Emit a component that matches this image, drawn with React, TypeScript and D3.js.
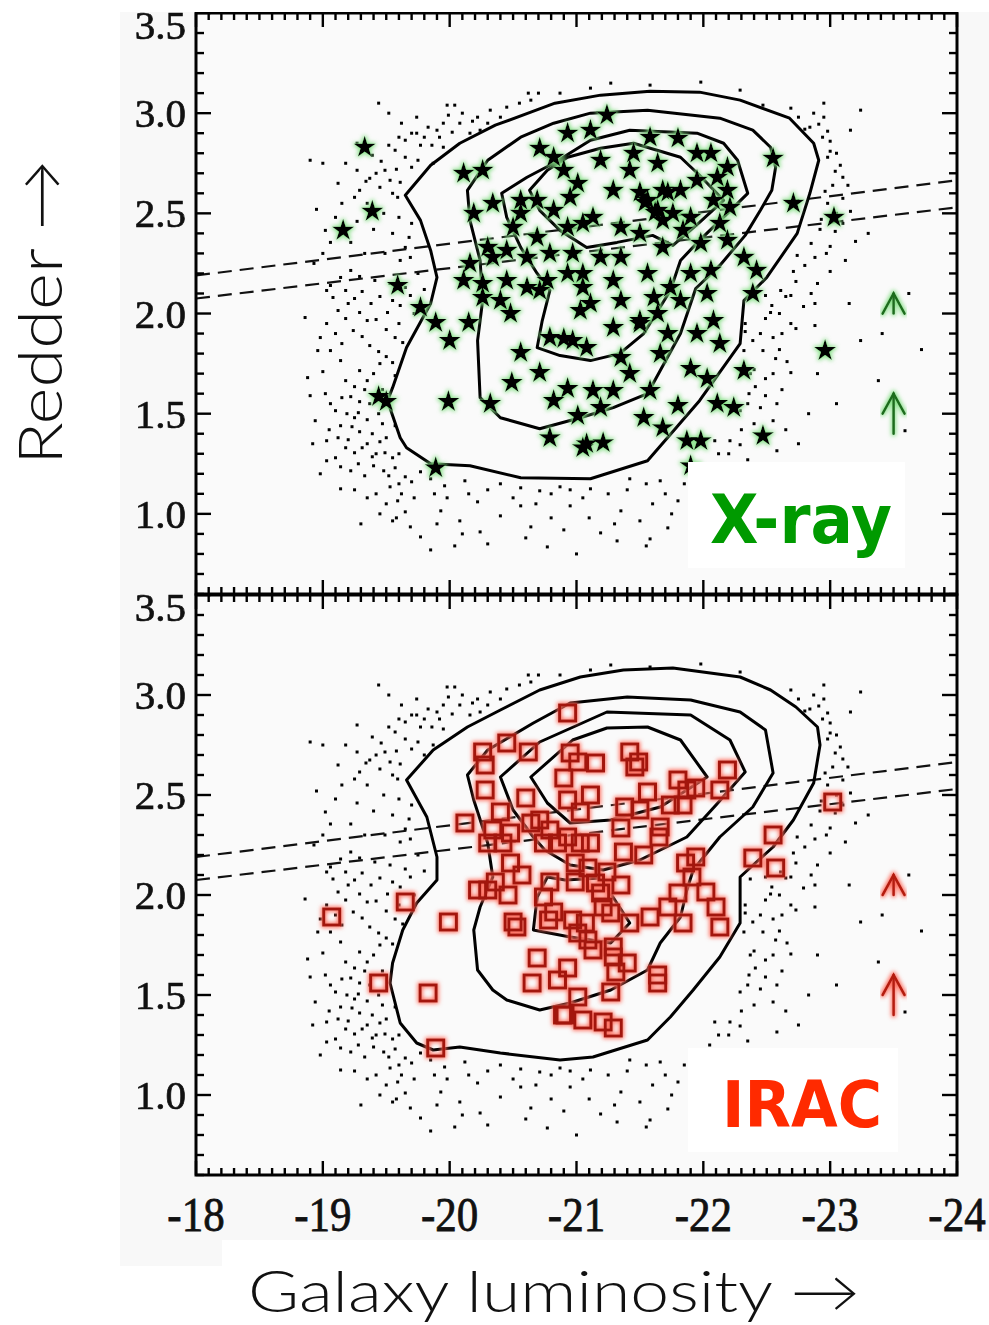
import React from "react";
import * as d3 from "d3";

type Pt = [number, number];

// ---------- axes ----------
const xTickValues = [-18, -19, -20, -21, -22, -23, -24];
const yTickValues = [1.0, 1.5, 2.0, 2.5, 3.0, 3.5];
const xDomain: Pt = [-18, -24];
const yDomain: Pt = [0.6, 3.5];

// ---------- field galaxies (small dots, shown outside the outermost contour) ----------
const fieldGalaxies: Pt[] = [
  [-19.44, 3.05], [-19.98, 3.04], [-20.04, 3.04], [-19.74, 2.98], [-19.99, 2.99], [-20.22, 2.98], [-20.4, 2.98],
  [-20.24, 2.915], [-19.74, 2.9], [-19.9, 2.915], [-20.02, 2.905], [-20.16, 2.9], [-19.65, 2.865], [-19.77, 2.84],
  [-19.86, 2.84], [-19.95, 2.83], [-19.27, 2.85], [-19.57, 2.815], [-19.65, 2.78], [-19.75, 2.765], [-19.87, 2.75],
  [-19.18, 2.75], [-19.39, 2.79], [-19.49, 2.715], [-19.27, 2.715], [-19.0, 2.75], [-19.37, 2.675], [-19.53, 2.665],
  [-19.61, 2.655], [-19.59, 2.58], [-19.29, 2.615], [-19.12, 2.65], [-18.9, 2.765], [-20.08, 2.95], [-20.32, 3.015],
  [-20.64, 3.065], [-20.87, 3.1], [-21.27, 3.15], [-21.58, 3.14], [-21.98, 3.155], [-22.29, 3.115], [-21.11, 3.125],
  [-19.02, 2.415], [-19.06, 2.355], [-19.22, 2.355], [-19.33, 2.3], [-19.49, 2.3], [-19.61, 2.265], [-19.22, 2.215],
  [-19.14, 2.18], [-19.29, 2.185], [-19.41, 2.165], [-19.53, 2.15], [-19.06, 2.14], [-19.18, 2.115], [-19.31, 2.11],
  [-19.45, 2.085], [-19.65, 2.33], [-19.69, 2.28], [-19.65, 2.13], [-19.69, 2.09], [-19.08, 2.08], [-19.25, 2.075],
  [-19.12, 2.015], [-19.29, 2.005], [-19.03, 2.115], [-19.55, 2.065], [-19.61, 2.04], [-19.51, 2.005], [-19.03, 1.95],
  [-19.18, 1.975], [-19.35, 1.965], [-19.24, 1.915], [-19.31, 1.885], [-19.57, 1.88], [-19.63, 1.855], [-19.06, 1.815],
  [-19.15, 1.85], [-19.37, 1.84], [-19.44, 1.81], [-19.5, 1.785], [-19.55, 1.755], [-19.14, 1.765], [-19.29, 1.715],
  [-19.0, 1.71], [-19.18, 1.665], [-19.25, 1.635], [-19.35, 1.665], [-19.57, 1.69], [-19.02, 1.6], [-19.22, 1.585],
  [-19.29, 1.56], [-19.37, 1.55], [-19.1, 1.515], [-19.19, 1.5], [-19.28, 1.505], [-19.14, 1.44], [-19.23, 1.435],
  [-19.29, 1.41], [-19.39, 1.4], [-19.45, 1.36], [-19.5, 1.38], [-19.57, 1.44], [-19.03, 1.365], [-19.18, 1.33],
  [-19.25, 1.305], [-19.31, 1.33], [-19.39, 1.285], [-19.49, 1.305], [-19.03, 1.265], [-19.14, 1.235], [-19.22, 1.215],
  [-19.33, 1.19], [-19.48, 1.215], [-19.57, 1.23], [-19.65, 1.185], [-19.7, 1.16], [-19.53, 1.135], [-19.14, 1.125],
  [-18.94, 1.465], [-18.9, 1.59], [-18.96, 1.815],
  [-19.77, 1.21], [-19.85, 1.175], [-19.96, 1.14], [-20.12, 1.165], [-20.4, 1.15], [-20.56, 1.13], [-20.71, 1.115],
  [-20.87, 1.135], [-21.11, 1.125], [-19.59, 1.065], [-19.65, 1.01], [-19.55, 0.965], [-19.69, 0.935], [-19.77, 0.885],
  [-20.08, 0.965], [-20.24, 0.91], [-20.56, 1.04], [-20.64, 0.935], [-20.77, 0.835], [-21.19, 0.905], [-21.35, 1.015],
  [-21.5, 0.965], [-21.55, 0.84], [-21.58, 0.875], [-21.8, 1.065], [-21.98, 1.075], [-21.9, 0.965], [-22.17, 1.165],
  [-21.66, 1.165], [-21.42, 1.175], [-20.95, 1.04], [-20.4, 0.99], [-19.93, 1.015], [-21.32, 0.865], [-20.04, 0.84],
  [-22.47, 3.04], [-22.69, 3.025], [-22.87, 3.0], [-22.95, 3.05], [-22.84, 2.93], [-22.91, 2.945], [-22.98, 2.91],
  [-23.0, 2.86], [-22.94, 2.88], [-23.0, 2.81], [-23.08, 2.74], [-23.04, 2.71], [-23.02, 2.64], [-22.96, 2.61],
  [-23.1, 2.575], [-23.14, 2.64], [-23.16, 2.51], [-22.92, 2.42], [-23.04, 2.41], [-23.0, 2.335], [-23.2, 2.36],
  [-23.12, 2.265], [-23.0, 2.21], [-22.74, 2.29], [-22.8, 2.24], [-22.73, 2.16], [-22.69, 2.09], [-22.79, 2.035],
  [-22.61, 2.115], [-22.71, 2.21], [-22.37, 2.08], [-22.49, 2.09], [-22.65, 2.085], [-22.54, 2.04], [-22.53, 2.005],
  [-22.49, 1.975], [-22.88, 2.05], [-22.88, 1.94], [-22.69, 1.95], [-22.73, 1.925], [-22.33, 1.95], [-22.33, 1.91],
  [-22.39, 1.865], [-22.32, 1.815], [-22.47, 1.815], [-22.57, 1.775], [-22.66, 1.76], [-22.69, 1.705], [-22.37, 1.7],
  [-22.49, 1.675], [-22.41, 1.635], [-22.36, 1.6], [-22.49, 1.59], [-22.45, 1.53], [-22.55, 1.465], [-22.29, 1.515],
  [-22.09, 1.365], [-22.21, 1.365], [-22.29, 1.345], [-22.58, 1.315], [-22.83, 1.5], [-23.12, 1.215], [-23.24, 1.865],
  [-23.62, 2.1], [-23.41, 1.9], [-23.72, 1.82], [-23.38, 1.665], [-23.59, 1.415], [-23.24, 3.015], [-23.16, 2.915],
  [-22.86, 1.14], [-22.06, 1.165],
  [-19.52, 3.0], [-19.62, 2.95], [-19.83, 2.93], [-19.95, 2.95], [-20.1, 3.0], [-20.18, 2.96], [-20.3, 2.95],
  [-20.45, 3.03], [-20.55, 3.05], [-20.7, 3.1], [-20.62, 3.1], [-19.7, 2.9], [-19.8, 2.88], [-19.92, 2.88],
  [-19.6, 2.88], [-19.52, 2.84], [-19.46, 2.76], [-19.58, 2.72], [-19.7, 2.73], [-19.8, 2.7], [-19.42, 2.7],
  [-19.34, 2.66], [-19.45, 2.63], [-19.55, 2.6], [-19.25, 2.58], [-19.15, 2.55], [-19.35, 2.55], [-19.48, 2.5],
  [-19.6, 2.48], [-19.7, 2.45], [-19.27, 2.46], [-19.1, 2.48], [-18.95, 2.52], [-19.4, 2.42], [-19.55, 2.4],
  [-19.68, 2.38],
  [-19.75, 2.2], [-19.8, 2.12], [-19.72, 2.0], [-19.6, 1.95], [-19.5, 1.92], [-19.42, 1.97], [-19.38, 2.05],
  [-19.2, 2.05], [-19.1, 1.9], [-18.98, 1.88], [-19.45, 1.75], [-19.4, 1.7], [-19.33, 1.62], [-19.47, 1.62],
  [-19.15, 1.58], [-19.06, 1.55], [-19.25, 1.48], [-19.35, 1.47], [-19.44, 1.5], [-19.47, 1.45], [-19.05, 1.42],
  [-19.12, 1.38], [-19.2, 1.37], [-19.35, 1.35], [-19.42, 1.3], [-19.55, 1.28], [-19.6, 1.3], [-19.1, 1.28],
  [-19.28, 1.25], [-19.4, 1.24], [-19.52, 1.19], [-19.6, 1.15], [-19.42, 1.1], [-19.25, 1.12], [-19.35, 1.08],
  [-19.5, 1.05], [-19.62, 1.1], [-19.72, 1.08], [-19.45, 1.0], [-19.58, 0.98], [-19.3, 0.95], [-18.98, 1.2],
  [-18.92, 1.35], [-18.88, 1.68], [-18.86, 1.98], [-18.93, 2.25], [-19.0, 2.3],
  [-19.88, 1.1], [-19.98, 1.08], [-20.15, 1.1], [-20.3, 1.12], [-20.22, 1.06], [-20.5, 1.08], [-20.68, 1.05],
  [-20.8, 1.1], [-20.95, 1.12], [-21.05, 1.08], [-21.25, 1.1], [-21.4, 1.12], [-21.55, 1.15], [-21.7, 1.1],
  [-21.85, 1.15], [-21.95, 1.2], [-22.05, 1.25], [-22.12, 1.3], [-21.75, 1.0], [-21.6, 1.05], [-21.3, 0.95],
  [-21.1, 0.98], [-20.9, 0.92], [-20.8, 0.98], [-20.3, 0.85], [-20.1, 0.9], [-19.9, 0.95], [-19.85, 0.82],
  [-20.6, 0.88], [-21.0, 0.8], [-21.72, 0.93], [-22.0, 1.0],
  [-22.4, 3.0], [-22.55, 2.98], [-22.75, 2.98], [-22.8, 2.92], [-22.95, 2.98], [-22.98, 2.78], [-23.05, 2.8],
  [-23.1, 2.68], [-22.98, 2.55], [-23.05, 2.5], [-22.93, 2.47], [-23.1, 2.45], [-22.97, 2.3], [-22.88, 2.28],
  [-22.85, 2.35], [-22.9, 2.15], [-22.85, 2.1], [-22.6, 2.0], [-22.62, 1.9], [-22.55, 1.88], [-22.45, 1.9],
  [-22.6, 1.82], [-22.55, 1.7], [-22.62, 1.62], [-22.4, 1.72], [-22.35, 1.55], [-22.58, 1.55], [-22.4, 1.45],
  [-22.3, 1.42], [-22.65, 1.42], [-22.2, 1.3], [-22.35, 1.27], [-22.45, 1.22], [-22.75, 1.35], [-22.9, 1.7],
  [-23.05, 1.55], [-23.15, 2.05], [-23.3, 2.4],
];

// ---------- X-ray sources (stars) ----------
const xraySources: Pt[] = [
  [-19.33, 2.83], [-19.39, 2.51], [-19.16, 2.415], [-19.59, 2.14], [-19.44, 1.585], [-19.5, 1.56], [-19.99, 1.56],
  [-19.89, 1.23], [-19.77, 2.03], [-19.89, 1.955], [-20.15, 1.955], [-20.0, 1.865], [-20.26, 2.08], [-20.4, 2.065],
  [-20.48, 2.0], [-20.32, 1.55], [-20.49, 1.655], [-20.56, 1.805], [-20.71, 1.705], [-20.79, 1.88], [-20.9, 1.875],
  [-20.97, 1.865], [-20.79, 1.38], [-20.82, 1.565], [-20.93, 1.625], [-21.01, 1.49], [-21.05, 1.33], [-21.03, 2.015],
  [-20.71, 2.115], [-22.08, 1.965], [-22.13, 1.85], [-21.95, 1.9], [-22.32, 1.715], [-22.11, 1.55], [-22.24, 1.53],
  [-22.47, 1.39], [-22.96, 1.815], [-21.9, 1.725], [-22.03, 1.675], [-21.8, 1.54], [-21.53, 1.48], [-21.87, 1.365],
  [-21.68, 1.43], [-21.21, 1.355], [-21.08, 1.35], [-21.9, 1.24], [-21.5, 1.965], [-21.64, 2.0], [-21.66, 1.8],
  [-21.42, 1.7], [-21.29, 1.615], [-21.13, 1.615], [-21.19, 1.53], [-21.58, 1.615], [-21.24, 2.99], [-21.8, 2.875],
  [-21.95, 2.8], [-22.06, 2.8], [-22.55, 2.775], [-21.19, 2.765], [-21.45, 2.8], [-21.64, 2.75], [-21.42, 2.715],
  [-21.29, 2.615], [-21.56, 2.565], [-21.68, 2.615], [-21.82, 2.615], [-21.95, 2.665], [-22.11, 2.68], [-22.19, 2.73],
  [-22.19, 2.615], [-22.08, 2.565], [-21.64, 2.515], [-21.76, 2.5], [-21.68, 2.465], [-21.9, 2.48], [-22.21, 2.53],
  [-22.13, 2.45], [-21.13, 2.48], [-21.35, 2.43], [-21.5, 2.4], [-21.84, 2.415], [-21.98, 2.35], [-22.19, 2.365],
  [-22.71, 2.55], [-23.03, 2.48], [-22.32, 2.28], [-21.35, 2.28], [-21.68, 2.33], [-21.19, 2.28], [-21.56, 2.2],
  [-21.9, 2.2], [-22.06, 2.215], [-21.05, 2.2], [-21.29, 2.165], [-21.74, 2.13], [-22.42, 2.215], [-22.39, 2.1],
  [-22.03, 2.1], [-20.11, 2.7], [-20.26, 2.715], [-20.93, 2.9], [-20.82, 2.78], [-20.9, 2.715], [-21.01, 2.65],
  [-20.34, 2.55], [-20.19, 2.5], [-20.56, 2.565], [-20.56, 2.5], [-20.69, 2.565], [-20.82, 2.515], [-20.95, 2.58],
  [-20.93, 2.43], [-21.05, 2.45], [-20.69, 2.38], [-20.5, 2.43], [-20.3, 2.33], [-20.34, 2.28], [-20.16, 2.25],
  [-20.45, 2.315], [-20.61, 2.28], [-20.79, 2.3], [-20.97, 2.3], [-20.11, 2.165], [-20.26, 2.15], [-20.45, 2.165],
  [-20.61, 2.13], [-20.77, 2.165], [-20.93, 2.2], [-21.05, 2.13], [-21.11, 2.05], [-21.35, 2.065], [-21.61, 2.08],
  [-21.82, 2.065], [-21.29, 1.93], [-21.5, 1.95], [-21.72, 1.9], [-21.08, 1.83], [-21.35, 1.78], [-21.98, 1.365],
  [-20.71, 2.825], [-21.11, 2.915], [-21.58, 2.88], [-21.54, 2.555], [-21.62, 2.505], [-21.72, 2.605], [-21.5, 2.605],
];

// ---------- IRAC sources (squares) ----------
const iracSources: Pt[] = [
  [-20.93, 2.91], [-20.45, 2.76], [-20.26, 2.715], [-20.62, 2.715], [-20.28, 2.65], [-20.28, 2.525], [-20.6, 2.485],
  [-20.4, 2.415], [-20.12, 2.36], [-20.34, 2.325], [-20.48, 2.31], [-20.3, 2.26], [-20.42, 2.26], [-20.64, 2.36],
  [-20.71, 2.375], [-20.79, 2.325], [-20.74, 2.26], [-20.85, 2.26], [-20.48, 2.16], [-20.57, 2.1], [-20.36, 2.065],
  [-20.22, 2.025], [-20.3, 2.025], [-20.46, 2.0], [-20.79, 2.065], [-20.74, 1.99], [-20.82, 1.915], [-20.53, 1.84],
  [-20.5, 1.865], [-20.78, 1.875], [-19.65, 1.965], [-19.07, 1.89], [-19.99, 1.865], [-20.69, 1.685], [-20.65, 1.56],
  [-20.85, 1.575], [-19.44, 1.56], [-19.83, 1.51], [-20.89, 1.4], [-19.89, 1.235],
  [-21.42, 2.715], [-21.49, 2.665], [-21.46, 2.64], [-21.15, 2.66], [-20.95, 2.71], [-21.01, 2.665], [-20.9, 2.585],
  [-22.19, 2.625], [-21.8, 2.575], [-21.94, 2.535], [-21.87, 2.525], [-22.13, 2.525], [-21.56, 2.515], [-21.11, 2.5],
  [-20.93, 2.475], [-21.03, 2.415], [-21.38, 2.44], [-21.5, 2.425], [-21.74, 2.45], [-21.84, 2.45], [-21.35, 2.335],
  [-21.66, 2.34], [-21.65, 2.29], [-20.93, 2.29], [-21.03, 2.26], [-21.11, 2.26], [-21.37, 2.215], [-21.53, 2.2],
  [-21.86, 2.16], [-21.94, 2.19], [-21.91, 2.09], [-20.99, 2.16], [-21.09, 2.135], [-21.24, 2.115], [-20.99, 2.065],
  [-21.15, 2.06], [-21.35, 2.05], [-21.19, 2.01], [-21.8, 2.01], [-22.02, 2.015], [-21.72, 1.94], [-21.58, 1.89],
  [-21.84, 1.86], [-22.1, 1.94], [-22.13, 1.84], [-21.42, 1.86], [-21.27, 1.91], [-21.21, 1.94], [-20.97, 1.875],
  [-21.07, 1.86], [-21.01, 1.81], [-21.09, 1.775], [-21.13, 1.725], [-21.29, 1.74], [-21.29, 1.69], [-21.4, 1.66],
  [-21.31, 1.615], [-21.64, 1.6], [-21.64, 1.56], [-20.93, 1.635], [-21.27, 1.515], [-21.01, 1.49], [-20.91, 1.4],
  [-21.05, 1.375], [-21.21, 1.365], [-21.29, 1.335], [-22.55, 2.3], [-22.39, 2.185], [-22.57, 2.135], [-23.02, 2.465],
];

// ---------- density contours of the field sample ----------
const xrayContours: Pt[][] = [
  [[-19.65, 2.59], [-19.85, 2.74], [-20.08, 2.85], [-20.36, 2.94], [-20.64, 3.005], [-20.83, 3.05], [-21.19, 3.09],
   [-21.58, 3.11], [-21.97, 3.105], [-22.29, 3.065], [-22.68, 2.975], [-22.87, 2.85], [-22.91, 2.765], [-22.84, 2.6],
   [-22.74, 2.4], [-22.5, 2.18], [-22.32, 2.065], [-22.29, 1.85], [-21.97, 1.565], [-21.56, 1.265], [-21.11, 1.175],
   [-20.56, 1.18], [-20.16, 1.24], [-19.85, 1.25], [-19.66, 1.33], [-19.61, 1.38], [-19.51, 1.565], [-19.55, 1.63],
   [-19.66, 1.83], [-19.85, 2.05], [-19.9, 2.18], [-19.85, 2.315], [-19.77, 2.465]],
  [[-20.14, 2.615], [-20.3, 2.765], [-20.56, 2.88], [-20.82, 2.95], [-21.11, 3.0], [-21.56, 3.015], [-22.13, 2.975],
   [-22.39, 2.915], [-22.53, 2.83], [-22.57, 2.73], [-22.54, 2.615], [-22.45, 2.515], [-22.33, 2.39], [-22.13, 2.24],
   [-21.94, 2.125], [-21.82, 1.9], [-21.56, 1.6], [-21.29, 1.53], [-21.03, 1.48], [-20.71, 1.425], [-20.4, 1.48],
   [-20.24, 1.58], [-20.22, 1.865], [-20.26, 2.065], [-20.24, 2.265], [-20.16, 2.465]],
  [[-20.41, 2.6], [-20.61, 2.68], [-20.82, 2.75], [-21.11, 2.865], [-21.42, 2.915], [-21.95, 2.9], [-22.16, 2.85],
   [-22.27, 2.765], [-22.35, 2.6], [-22.19, 2.5], [-21.97, 2.365], [-21.82, 2.265], [-21.74, 2.115], [-21.53, 1.9],
   [-21.34, 1.8], [-21.11, 1.765], [-20.87, 1.79], [-20.69, 1.83], [-20.73, 1.965], [-20.79, 2.115], [-20.69, 2.2],
   [-20.56, 2.33], [-20.45, 2.48]],
  [[-20.63, 2.615], [-20.77, 2.715], [-20.93, 2.78], [-21.19, 2.825], [-21.45, 2.85], [-21.82, 2.78], [-21.97, 2.69],
   [-22.16, 2.565], [-21.97, 2.455], [-21.76, 2.34], [-21.6, 2.39], [-21.32, 2.355], [-21.08, 2.33], [-20.87, 2.415],
   [-20.71, 2.515]],
];

const iracContours: Pt[][] = [
  [[-19.66, 2.575], [-19.87, 2.725], [-20.14, 2.84], [-20.4, 2.925], [-20.71, 3.025], [-21.03, 3.09], [-21.37, 3.125],
   [-21.76, 3.135], [-22.29, 3.09], [-22.53, 3.025], [-22.73, 2.94], [-22.9, 2.84], [-22.92, 2.75], [-22.87, 2.56],
   [-22.71, 2.375], [-22.55, 2.24], [-22.35, 2.125], [-22.29, 2.09], [-22.29, 1.86], [-22.13, 1.69], [-21.92, 1.525],
   [-21.74, 1.39], [-21.56, 1.275], [-21.13, 1.19], [-20.87, 1.175], [-20.4, 1.21], [-20.08, 1.24], [-19.87, 1.225],
   [-19.74, 1.26], [-19.61, 1.36], [-19.53, 1.56], [-19.55, 1.66], [-19.63, 1.825], [-19.74, 1.96], [-19.9, 2.075],
   [-19.9, 2.19], [-19.82, 2.39]],
  [[-20.14, 2.6], [-20.3, 2.725], [-20.66, 2.86], [-20.95, 2.96], [-21.4, 2.99], [-21.9, 2.975], [-22.29, 2.915],
   [-22.49, 2.825], [-22.55, 2.61], [-22.39, 2.44], [-22.13, 2.29], [-21.92, 2.125], [-21.87, 2.025], [-21.82, 1.89],
   [-21.66, 1.76], [-21.56, 1.625], [-21.27, 1.525], [-20.95, 1.46], [-20.71, 1.425], [-20.45, 1.475], [-20.34, 1.525],
   [-20.22, 1.625], [-20.19, 1.825], [-20.24, 1.94], [-20.34, 2.09], [-20.3, 2.26], [-20.19, 2.475]],
  [[-20.4, 2.59], [-20.71, 2.765], [-21.24, 2.915], [-21.9, 2.9], [-22.21, 2.775], [-22.33, 2.615], [-22.1, 2.45],
   [-21.87, 2.29], [-21.5, 2.175], [-21.21, 2.125], [-20.95, 2.15], [-20.75, 2.225], [-20.66, 2.29], [-20.5, 2.425]],
  [[-20.77, 2.09], [-20.69, 1.99], [-20.66, 1.825], [-20.95, 1.79], [-21.27, 1.76], [-21.42, 1.86], [-21.19, 2.085],
   [-20.91, 2.075]],
  [[-20.64, 2.59], [-20.97, 2.775], [-21.24, 2.835], [-21.56, 2.84], [-21.82, 2.775], [-22.03, 2.59], [-21.66, 2.44],
   [-21.27, 2.375], [-20.95, 2.36], [-20.77, 2.46]],
];

// ---------- dashed reference lines ----------
const dividingLines: Pt[][] = [
  [[-18, 2.19], [-24, 2.665]],
  [[-18, 2.075], [-24, 2.53]],
];

// ---------- lower-limit arrows ----------
const limitArrows = [
  { x: -23.5, tip: 2.1, tail: 2.0 },
  { x: -23.5, tip: 1.6, tail: 1.4 },
];

const X_LEFT = 196;
const X_RIGHT = 957;

const x = d3.scaleLinear().domain(xDomain).range([X_LEFT, X_RIGHT]);

interface PanelProps {
  id: string;
  top: number;
  bottom: number;
  contours: Pt[][];
  markers: Pt[];
  kind: "star" | "square";
  glow: string;
  ink: string;
  arrowColor: string;
  label: string;
  labelColor: string;
  labelBox: { x: number; y: number; w: number; h: number; tx: number; ty: number; size: number; len: number };
  topLabelShift: number;
}

function Panel(p: PanelProps) {
  const y = d3.scaleLinear().domain(yDomain).range([p.bottom, p.top]);
  const line = d3.line<Pt>().x((d) => x(d[0])).y((d) => y(d[1]));
  const closed = d3.line<Pt>().x((d) => x(d[0])).y((d) => y(d[1])).curve(d3.curveLinearClosed);
  const outer = p.contours[0].map((d) => [x(d[0]), y(d[1])] as [number, number]);
  const dots = fieldGalaxies.filter((d) => !d3.polygonContains(outer, [x(d[0]), y(d[1])]));
  const star = d3.symbol().type(d3.symbolStar).size(150)()!;
  const sq = 16;

  const minorX = d3.range(-180, -241, -1).map((v) => v / 10);
  const minorY = d3.range(6, 36).map((v) => v / 10);
  const ticks: JSX.Element[] = [];
  minorX.forEach((v, i) => {
    const major = Math.abs(v - Math.round(v)) < 1e-6;
    const len = major ? 14 : 7;
    const xx = x(v);
    ticks.push(<line key={`xb${i}`} x1={xx} x2={xx} y1={p.bottom} y2={p.bottom - len} />);
    ticks.push(<line key={`xt${i}`} x1={xx} x2={xx} y1={p.top} y2={p.top + len} />);
  });
  minorY.forEach((v, i) => {
    const major = Math.abs(v * 2 - Math.round(v * 2)) < 1e-6;
    const len = major ? 15 : 8;
    const yy = y(v);
    ticks.push(<line key={`yl${i}`} x1={X_LEFT} x2={X_LEFT + len} y1={yy} y2={yy} />);
    ticks.push(<line key={`yr${i}`} x1={X_RIGHT} x2={X_RIGHT - len} y1={yy} y2={yy} />);
  });

  return (
    <g>
      <defs>
        <clipPath id={`clip-${p.id}`}>
          <rect x={X_LEFT} y={p.top} width={X_RIGHT - X_LEFT} height={p.bottom - p.top} />
        </clipPath>
        <filter id={`glow-${p.id}`} x="-10%" y="-10%" width="120%" height="120%">
          <feMorphology in="SourceAlpha" operator="dilate" radius="1.4" result="d" />
          <feGaussianBlur in="d" stdDeviation="2.2" result="b" />
          <feFlood floodColor={p.glow} result="f" />
          <feComposite in="f" in2="b" operator="in" result="g" />
          <feMerge>
            <feMergeNode in="g" />
            <feMergeNode in="SourceGraphic" />
          </feMerge>
        </filter>
      </defs>
      <g clipPath={`url(#clip-${p.id})`}>
        <g fill="#000">
          {dots.map((d, i) => (
            <rect key={i} x={x(d[0]) - 1.5} y={y(d[1]) - 1.5} width={3} height={3} />
          ))}
        </g>
        <g fill="none" stroke="#111" strokeWidth={2.2} strokeDasharray="14 8">
          {dividingLines.map((l, i) => (
            <path key={i} d={line(l)!} />
          ))}
        </g>
        <g fill="none" stroke="#000" strokeWidth={3} strokeLinejoin="round">
          {p.contours.map((c, i) => (
            <path key={i} d={closed(c)!} />
          ))}
        </g>
        <g filter={`url(#glow-${p.id})`}>
          {p.kind === "star"
            ? p.markers.map((d, i) => (
                <path key={i} d={star} transform={`translate(${x(d[0])},${y(d[1])})`} fill="#000" />
              ))
            : p.markers.map((d, i) => (
                <rect
                  key={i}
                  x={x(d[0]) - sq / 2}
                  y={y(d[1]) - sq / 2}
                  width={sq}
                  height={sq}
                  fill="none"
                  stroke={p.ink}
                  strokeWidth={3}
                />
              ))}
        </g>
        <g filter={`url(#glow-${p.id})`} stroke={p.arrowColor} strokeWidth={2.6} fill="none" strokeLinecap="round">
          {limitArrows.map((a, i) => {
            const ax = x(a.x);
            const yt = y(a.tip);
            const head = y(a.tip - 0.1);
            return (
              <g key={i}>
                <line x1={ax} x2={ax} y1={yt} y2={y(a.tail)} />
                <polyline points={`${ax - 11},${head} ${ax},${yt} ${ax + 11},${head}`} />
              </g>
            );
          })}
        </g>
        <rect x={p.labelBox.x} y={p.labelBox.y} width={p.labelBox.w} height={p.labelBox.h} fill="#ffffff" />
        <text
          x={p.labelBox.tx}
          y={p.labelBox.ty}
          fill={p.labelColor}
          fontFamily="'DejaVu Sans', sans-serif"
          fontWeight="bold"
          fontSize={p.labelBox.size}
          textLength={p.labelBox.len}
          lengthAdjust="spacingAndGlyphs"
        >
          {p.label}
        </text>
      </g>
      <g stroke="#000" strokeWidth={2.4}>{ticks}</g>
      <rect
        x={X_LEFT}
        y={p.top}
        width={X_RIGHT - X_LEFT}
        height={p.bottom - p.top}
        fill="none"
        stroke="#000"
        strokeWidth={3}
      />
      <g
        fontFamily="'Liberation Serif', 'Times New Roman', serif"
        fontSize={41}
        textAnchor="end"
        fill="#111"
        stroke="#111"
        strokeWidth={0.7}
      >
        {yTickValues.map((v) => (
          <text key={v} x={186} y={y(v) + (v === 3.5 ? p.topLabelShift : 14)}>
            {v.toFixed(1)}
          </text>
        ))}
      </g>
    </g>
  );
}

export default function App() {
  return (
    <svg
      width={989}
      height={1325}
      viewBox="0 0 989 1325"
      style={{ position: "absolute", left: 0, top: 0, background: "#ffffff" }}
    >
      <rect x={120} y={0} width={869} height={1240} fill="#f8f8f8" />
      <rect x={120} y={1240} width={102} height={26} fill="#f8f8f8" />
      <rect x={196} y={13} width={761} height={1162} fill="#fafafa" />
      <Panel
        id="xray"
        top={13}
        bottom={594}
        contours={xrayContours}
        markers={xraySources}
        kind="star"
        glow="#86e086"
        ink="#000"
        arrowColor="#1d6d1d"
        label="X-ray"
        labelColor="#009a00"
        labelBox={{ x: 688, y: 462, w: 217, h: 106, tx: 710, ty: 543, size: 68, len: 182 }}
        topLabelShift={26}
      />
      <Panel
        id="irac"
        top={595}
        bottom={1175}
        contours={iracContours}
        markers={iracSources}
        kind="square"
        glow="#ff6a5a"
        ink="#a3140a"
        arrowColor="#b51a10"
        label="IRAC"
        labelColor="#ff2a00"
        labelBox={{ x: 688, y: 1048, w: 210, h: 104, tx: 722, ty: 1127, size: 64, len: 160 }}
        topLabelShift={26}
      />
      {/* area above the upper frame */}
      <rect x={120} y={0} width={869} height={12} fill="#ffffff" />
      <g
        fontFamily="'Liberation Serif', 'Times New Roman', serif"
        fontSize={43}
        textAnchor="middle"
        fill="#111"
        stroke="#111"
        strokeWidth={0.7}
      >
        {xTickValues.map((v) => (
          <text key={v} transform={`translate(${x(v)},1231) scale(1,1.12)`}>
            {String(v)}
          </text>
        ))}
      </g>
      <text
        transform="translate(62,465) rotate(-90)"
        fontFamily="Lato, 'DejaVu Sans', sans-serif"
        fontWeight={300}
        fontSize={62}
        fill="#111"
        textLength={305}
        lengthAdjust="spacingAndGlyphs"
      >
        Redder →
      </text>
      <text
        x={248}
        y={1312}
        fontFamily="Lato, 'DejaVu Sans', sans-serif"
        fontWeight={300}
        fontSize={58}
        fill="#111"
        textLength={612}
        lengthAdjust="spacingAndGlyphs"
      >
        Galaxy luminosity →
      </text>
    </svg>
  );
}
